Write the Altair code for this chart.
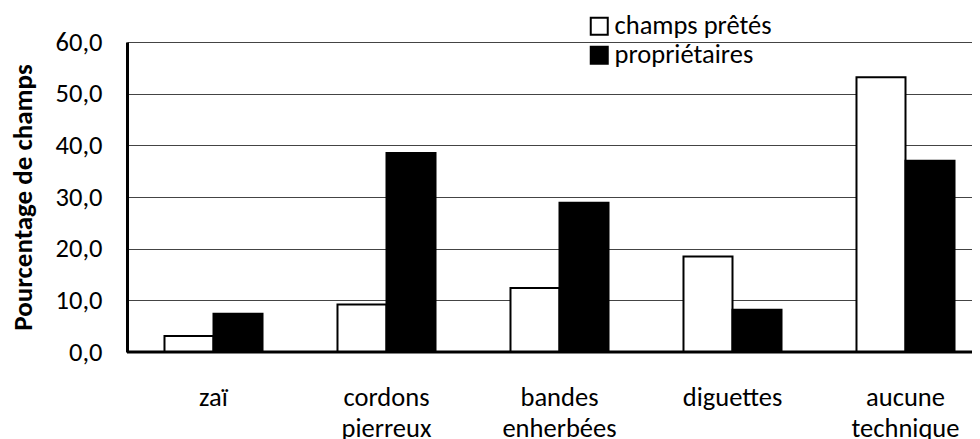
import altair as alt
import pandas as pd

categories = ["zaï", "cordons pierreux", "bandes enherbées", "diguettes", "aucune technique"]
series = ["champs prêtés", "propriétaires"]
pretes = [3.1, 9.2, 12.4, 18.5, 53.2]
proprietaires = [7.4, 38.5, 28.9, 8.2, 37.0]
y_ticks = [0, 10, 20, 30, 40, 50, 60]

rows = []
for c, a, b in zip(categories, pretes, proprietaires):
    rows.append({"cat": c, "serie": series[0], "val": a})
    rows.append({"cat": c, "serie": series[1], "val": b})
df = pd.DataFrame(rows)

FONT = "Carlito, Calibri, Lato"
W, H = 845, 310

bars = alt.Chart(df).mark_bar(stroke="black", strokeWidth=2, clip=True).encode(
    x=alt.X("cat:N", sort=categories,
            scale=alt.Scale(domain=categories, range=[0, 865], paddingInner=0, paddingOuter=0),
            axis=alt.Axis(title=None, domain=False, ticks=False, labelAngle=0,
                          labelExpr="split(datum.label, ' ')",
                          labelFont=FONT, labelFontSize=26.5, labelFontWeight=500,
                          labelColor="black",
                          labelBaseline="alphabetic", labelPadding=53, labelLineHeight=31)),
    xOffset=alt.XOffset("serie:N", sort=series,
                        scale=alt.Scale(domain=series, paddingInner=0, paddingOuter=0.765)),
    y=alt.Y("val:Q",
            scale=alt.Scale(domain=[0, 60], nice=False),
            axis=alt.Axis(title="Pourcentage de champs", values=y_ticks,
                          labelExpr="replace(format(datum.value, '.1f'), '.', ',')",
                          labelFont=FONT, labelFontSize=26.5, labelFontWeight=500,
                          labelColor="black",
                          labelPadding=25, ticks=False,
                          domain=True, domainColor="black", domainWidth=3,
                          grid=True, gridColor="#444444", gridWidth=1,
                          titleFont=FONT, titleFontSize=27, titleFontWeight="bold",
                          titleColor="black", titlePadding=18)),
    fill=alt.Fill("serie:N", sort=series,
                  scale=alt.Scale(domain=series, range=["white", "black"]),
                  legend=alt.Legend(title=None, orient="none", legendX=459, legendY=-29,
                                    symbolType="square", symbolSize=289,
                                    symbolStrokeColor="black", symbolStrokeWidth=2,
                                    labelFont=FONT, labelFontSize=26.5, labelFontWeight=500,
                                    labelColor="black",
                                    labelOffset=2, rowPadding=2, padding=0)),
)

base_df = pd.DataFrame({"v": [0]})
baseline = alt.Chart(base_df).mark_rule(color="black", strokeWidth=3).encode(
    y=alt.Y("v:Q"),
    x=alt.value(0),
    x2=alt.value(W),
)

chart = alt.layer(bars, baseline).properties(
    width=W, height=H,
    autosize=alt.AutoSizeParams(type="none"),
    padding={"left": 119, "top": 34, "right": 0, "bottom": 95},
).configure_view(stroke=None).configure(background="white")

chart.save("out.html", embed_options={"renderer": "svg", "actions": False})
